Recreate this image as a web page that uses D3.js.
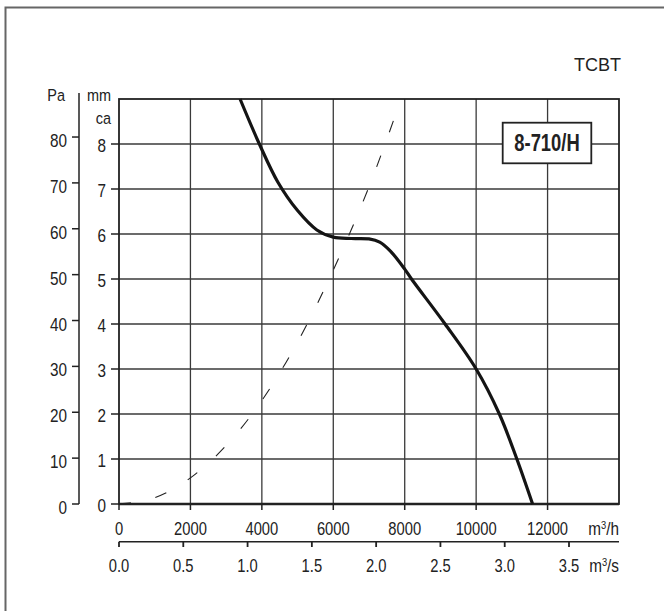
<!DOCTYPE html>
<html lang="en">
<head>
<meta charset="UTF-8">
<title>TCBT 8-710/H</title>
<script src="https://d3js.org/d3.v7.min.js"></script>
<style>
  body { margin: 0; background: #fff; }
  text { font-family: "Liberation Sans", Arial, sans-serif; fill: #222; }
</style>
</head>
<body>
<svg id="drawing_pad" width="664" height="611"></svg>
<script>
// ticks
const flowTicks  = [0, 2000, 4000, 6000, 8000, 10000, 12000];       // m3/h
const flowSTicks = [0.0, 0.5, 1.0, 1.5, 2.0, 2.5, 3.0, 3.5];        // m3/s
const mmTicks    = [0, 1, 2, 3, 4, 5, 6, 7, 8];                     // mm ca
const paTicks    = [0, 10, 20, 30, 40, 50, 60, 70, 80];             // Pa

// fan curve 8-710/H (m3/h, mm ca)
const fanFlow = [3390, 3930, 4450, 5000, 5540, 6000, 6500, 7000, 7300, 7600, 8000, 8190, 9130, 10000, 10650, 11140, 11580];
const fanMm   = [9.0, 8.0, 7.15, 6.52, 6.09, 5.93, 5.90, 5.89, 5.82, 5.62, 5.22, 5.0, 4.0, 3.0, 2.0, 1.0, 0.0];

// dashed system line (m3/h, mm ca)
const sysFlow = [0, 1000, 2000, 3000, 4000, 5000, 6000, 7000, 7900];
const sysMm   = [0, 0.14, 0.58, 1.3, 2.3, 3.6, 5.2, 7.05, 9.0];

const svg = d3.select("#drawing_pad");

let x  = d3.scaleLinear().domain([0, 14000]).range([119, 619]);
let xs = d3.scaleLinear().domain([0, 14000 / 3600]).range([119, 619]);
let y  = d3.scaleLinear().domain([0, 9]).range([504, 99]);
let yPa = d3.scaleLinear().domain([0, 9 * 9.81]).range([504, 99]);

// outer frame (top + left only visible)
svg.append("path").attr("d", "M5.5,611 V7.5 H664")
   .attr("fill", "none").attr("stroke", "#666").attr("stroke-width", 2);

// narrow text helper
function label(g, px, py, txt, size, anchor, sx) {
  g.append("text")
   .attr("transform", "translate(" + px + "," + py + ") scale(" + sx + ",1)")
   .attr("text-anchor", anchor)
   .style("font-size", size + "px")
   .text(txt);
}

// grid
let grid = svg.append("g").attr("stroke", "#3a3a3a").attr("stroke-width", 1.3);
grid.selectAll(".v").data(flowTicks.filter(d => d > 0)).enter().append("line")
    .attr("x1", d => x(d)).attr("x2", d => x(d)).attr("y1", y(9)).attr("y2", y(0));
grid.selectAll(".h").data(mmTicks.filter(d => d > 0)).enter().append("line")
    .attr("x1", x(0)).attr("x2", x(14000)).attr("y1", d => y(d)).attr("y2", d => y(d));

// plot border
svg.append("rect").attr("x", x(0)).attr("y", y(9))
   .attr("width", x(14000) - x(0)).attr("height", y(0) - y(9))
   .attr("fill", "none").attr("stroke", "#222").attr("stroke-width", 1.8);
svg.append("line").attr("x1", x(0)).attr("x2", x(14000)).attr("y1", y(0)).attr("y2", y(0))
   .attr("stroke", "#222").attr("stroke-width", 2.4);

// mm axis ticks + labels
let ax = svg.append("g");
ax.selectAll("line.mm").data(mmTicks).enter().append("line")
  .attr("x1", x(0) - 8).attr("x2", x(0)).attr("y1", d => y(d)).attr("y2", d => y(d))
  .attr("stroke", "#222").attr("stroke-width", 1.5);
mmTicks.forEach(d => label(ax, 106, y(d) + 8, d, 18, "end", 0.85));
label(ax, 111, 101, "mm", 17, "end", 0.85);
label(ax, 111, 124, "ca", 17, "end", 0.85);

// Pa axis
ax.append("line").attr("x1", 79).attr("x2", 79).attr("y1", 93).attr("y2", yPa(0))
  .attr("stroke", "#222").attr("stroke-width", 1.5);
ax.selectAll("line.pa").data(paTicks).enter().append("line")
  .attr("x1", 72).attr("x2", 79).attr("y1", d => yPa(d)).attr("y2", d => yPa(d))
  .attr("stroke", "#222").attr("stroke-width", 1.5);
paTicks.forEach(d => label(ax, 67, yPa(d) + 10, d, 18, "end", 0.85));
label(ax, 65, 101, "Pa", 17, "end", 0.85);

// bottom m3/h axis
ax.selectAll("line.q").data(flowTicks).enter().append("line")
  .attr("x1", d => x(d)).attr("x2", d => x(d)).attr("y1", y(0)).attr("y2", y(0) + 6)
  .attr("stroke", "#222").attr("stroke-width", 1.5);
flowTicks.forEach(d => label(ax, x(d), 535, d, 18, "middle", 0.82));
let uh = ax.append("text").attr("transform", "translate(619,535) scale(0.85,1)")
  .attr("text-anchor", "end").style("font-size", "18px");
uh.append("tspan").text("m");
uh.append("tspan").attr("dy", -6).style("font-size", "11px").text("3");
uh.append("tspan").attr("dy", 6).text("/h");

// m3/s axis
ax.append("line").attr("x1", xs(0)).attr("x2", x(14000)).attr("y1", 541.7).attr("y2", 541.7)
  .attr("stroke", "#222").attr("stroke-width", 1.5);
ax.selectAll("line.qs").data(flowSTicks).enter().append("line")
  .attr("x1", d => xs(d)).attr("x2", d => xs(d)).attr("y1", 541.7).attr("y2", 547)
  .attr("stroke", "#222").attr("stroke-width", 1.8);
flowSTicks.forEach(d => label(ax, xs(d), 572, d.toFixed(1), 18, "middle", 0.82));
let us = ax.append("text").attr("transform", "translate(619,572) scale(0.85,1)")
  .attr("text-anchor", "end").style("font-size", "18px");
us.append("tspan").text("m");
us.append("tspan").attr("dy", -6).style("font-size", "11px").text("3");
us.append("tspan").attr("dy", 6).text("/s");

// system line
let sysLine = d3.line().x(d => x(d[0])).y(d => y(d[1])).curve(d3.curveMonotoneX);
svg.append("path").datum(sysFlow.map((q, i) => [q, sysMm[i]]))
   .attr("d", sysLine).attr("fill", "none").attr("stroke", "#222")
   .attr("stroke-width", 1.1).attr("stroke-dasharray", "12,25");

// fan curve
let fanLine = d3.line().x(d => x(d[0])).y(d => y(d[1])).curve(d3.curveCatmullRom.alpha(0.5));
svg.append("path").datum(fanFlow.map((q, i) => [q, fanMm[i]]))
   .attr("d", fanLine).attr("fill", "none").attr("stroke", "#141414")
   .attr("stroke-width", 3.2).attr("stroke-linejoin", "round");

// model box
svg.append("rect").attr("x", 502.7).attr("y", 122.7).attr("width", 88.6).attr("height", 40.6)
   .attr("fill", "#fff").attr("stroke", "#222").attr("stroke-width", 1.8);
svg.append("text").attr("transform", "translate(547,151) scale(0.8,1)")
   .attr("text-anchor", "middle").style("font-size", "23px").style("font-weight", "bold")
   .text("8-710/H");

// title
svg.append("text").attr("x", 621).attr("y", 71).attr("text-anchor", "end")
   .style("font-size", "18px").text("TCBT");
</script>
</body>
</html>
